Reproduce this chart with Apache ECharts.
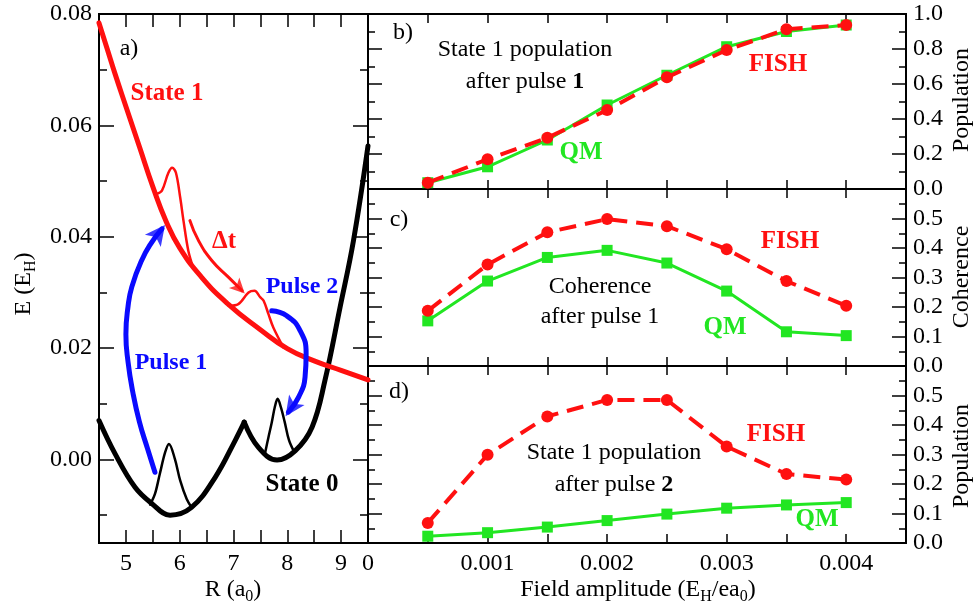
<!DOCTYPE html>
<html><head><meta charset="utf-8">
<script src="https://cdn.jsdelivr.net/npm/echarts@6/dist/echarts.min.js"></script>
<style>html,body{margin:0;padding:0;background:#fff}#c{width:978px;height:613px}</style>
</head><body><div id="c"></div>
<script>
// ---------------- Panel a data ----------------
const xALabels = [5, 6, 7, 8, 9];
const yALabels = [0, 0.02, 0.04, 0.06, 0.08];
const yAMinor = [-0.01, 0.01, 0.03, 0.05, 0.07];

const state1R = [4.5, 4.65, 4.8, 5.0, 5.25, 5.5, 5.75, 6.0, 6.4, 6.9, 7.5, 8.0, 8.5, 9.0, 9.5];
const state1E = [0.0784, 0.0738, 0.0692, 0.0634, 0.0562, 0.0490, 0.0427, 0.0380, 0.0328, 0.0279, 0.0233, 0.0199, 0.0177, 0.0160, 0.0143];

const state0LeftR = [4.5, 4.8, 5.17, 5.48, 5.82, 6.22, 6.66, 7.03, 7.2];
const state0LeftE = [0.0070, 0.0010, -0.0050, -0.0079, -0.0100, -0.0086, -0.0032, 0.0034, 0.0067];
const state0RightR = [7.2, 7.46, 7.81, 8.15, 8.46, 8.70, 8.98, 9.23, 9.5];
const state0RightE = [0.0067, 0.0022, -0.0001, 0.0016, 0.0058, 0.0142, 0.0273, 0.0393, 0.0563];

const pkt0aR = [5.45, 5.54, 5.63, 5.73, 5.80, 5.91, 6.01, 6.13, 6.22];
const pkt0aE = [-0.0081, -0.0062, -0.0026, 0.0013, 0.0028, 0.0001, -0.0038, -0.0071, -0.0086];
const pkt0bR = [7.59, 7.65, 7.71, 7.77, 7.82, 7.88, 7.95, 8.03, 8.12];
const pkt0bE = [0.0013, 0.0040, 0.0066, 0.0095, 0.0109, 0.0094, 0.0068, 0.0035, 0.0015];
const pkt1aR = [5.57, 5.67, 5.79, 5.86, 5.93, 6.01, 6.07, 6.16, 6.25];
const pkt1aE = [0.0477, 0.0483, 0.0515, 0.0524, 0.0515, 0.0470, 0.0429, 0.0375, 0.0345];
const pkt1bR = [6.91, 7.09, 7.28, 7.39, 7.50, 7.56, 7.65, 7.74, 7.93];
const pkt1bE = [0.0276, 0.0279, 0.0300, 0.0303, 0.0291, 0.0285, 0.0261, 0.0237, 0.0201];

const pulse1R = [5.54, 5.40, 5.25, 5.13, 5.04, 5.00, 5.04, 5.11, 5.29, 5.48, 5.67];
const pulse1E = [-0.0023, 0.0020, 0.0068, 0.0120, 0.0175, 0.0225, 0.0275, 0.0310, 0.0357, 0.0390, 0.0414];
const pulse2R = [7.71, 7.99, 8.24, 8.35, 8.33, 8.21, 8.02];
const pulse2E = [0.0267, 0.0258, 0.0231, 0.0190, 0.0148, 0.0112, 0.0085];
const dtR = [6.19, 6.35, 6.60, 6.91, 7.16];
const dtE = [0.0429, 0.0393, 0.0357, 0.0327, 0.0303];

// ---------------- Panels b, c, d data ----------------
const fieldAmp = [0.0005, 0.001, 0.0015, 0.002, 0.0025, 0.003, 0.0035, 0.004];
const fieldLabels = [0, 0.001, 0.002, 0.003, 0.004];
const popP1_FISH = [0.036, 0.170, 0.293, 0.451, 0.638, 0.794, 0.913, 0.937];
const popP1_QM   = [0.036, 0.127, 0.280, 0.480, 0.650, 0.813, 0.900, 0.937];
const coh_FISH   = [0.187, 0.344, 0.453, 0.498, 0.474, 0.396, 0.288, 0.204];
const coh_QM     = [0.153, 0.288, 0.368, 0.392, 0.349, 0.254, 0.116, 0.103];
const popP2_FISH = [0.068, 0.299, 0.429, 0.485, 0.485, 0.327, 0.234, 0.215];
const popP2_QM   = [0.023, 0.035, 0.054, 0.076, 0.098, 0.118, 0.129, 0.137];

// ---------------- styling ----------------
const FONT = '"Liberation Serif","Times New Roman",serif';
const RED = '#ff1010', GREEN = '#22e622', BLUE = '#0a0aff';
const zip = (a, b) => a.map((v, i) => [v, b[i]]);

function axisBase(extra) {
  return Object.assign({
    type: 'value',
    axisLine: { show: true, onZero: false, lineStyle: { color: '#000', width: 2 } },
    splitLine: { show: false },
    axisLabel: { show: false },
  }, extra);
}
const tick = (len, custom) => {
  const t = { show: true, inside: true, length: len, lineStyle: { color: '#000', width: 1.5 } };
  if (custom) t.customValues = custom;
  return t;
};
const lbl = (fmt, custom, extra) => {
  const l = Object.assign({ show: true, color: '#000', fontFamily: FONT, fontSize: 24, formatter: fmt }, extra || {});
  if (custom) l.customValues = custom;
  return l;
};
const minor = (len) => ({ show: true, splitNumber: 2, length: len, lineStyle: { color: '#000', width: 1.5 } });

const xR = { min: 0, max: 0.0045, interval: 0.0005 };
const xA = { min: 4.5, max: 9.5, interval: 0.5 };
const yA = { min: -0.015, max: 0.08 };

const xAxis = [
  axisBase(Object.assign({ gridIndex: 0, position: 'bottom', axisTick: tick(13), axisLabel: lbl(v => String(v), xALabels, { margin: 9 }) }, xA)),
  axisBase(Object.assign({ gridIndex: 0, position: 'top', axisTick: tick(13) }, xA)),
  axisBase(Object.assign({ gridIndex: 1, position: 'bottom', axisTick: tick(9) }, xR)),
  axisBase(Object.assign({ gridIndex: 1, position: 'top', axisTick: tick(9) }, xR)),
  axisBase(Object.assign({ gridIndex: 2, position: 'bottom', axisTick: tick(9) }, xR)),
  axisBase(Object.assign({ gridIndex: 2, position: 'top', axisTick: tick(9) }, xR)),
  axisBase(Object.assign({ gridIndex: 3, position: 'bottom', axisTick: tick(9),
    axisLabel: lbl(v => (v === 0 ? '0' : v.toFixed(3)), fieldLabels, { margin: 9 }) }, xR)),
  axisBase(Object.assign({ gridIndex: 3, position: 'top', axisTick: tick(9) }, xR)),
];

const yB = { min: 0, max: 1, interval: 0.2 };
const yC = { min: 0, max: 0.6, interval: 0.1 };
const f1 = v => v.toFixed(1);
const yAxis = [
  axisBase(Object.assign({ gridIndex: 0, position: 'left', axisTick: tick(15, yALabels), axisLabel: lbl(v => v.toFixed(2), yALabels, { margin: 7 }) }, yA)),
  axisBase(Object.assign({ gridIndex: 0, position: 'left', axisTick: tick(8, yAMinor) }, yA)),
  axisBase(Object.assign({ gridIndex: 0, position: 'right', axisTick: tick(15, yALabels) }, yA)),
  axisBase(Object.assign({ gridIndex: 0, position: 'right', axisTick: tick(8, yAMinor) }, yA)),
  axisBase(Object.assign({ gridIndex: 1, position: 'right', axisTick: tick(14), minorTick: minor(7), axisLabel: lbl(f1, null, { margin: 7 }) }, yB)),
  axisBase(Object.assign({ gridIndex: 1, position: 'left', axisTick: tick(14), minorTick: minor(7) }, yB)),
  axisBase(Object.assign({ gridIndex: 2, position: 'right', axisTick: tick(14), minorTick: minor(7), axisLabel: lbl(f1, null, { margin: 7, showMaxLabel: false }) }, yC)),
  axisBase(Object.assign({ gridIndex: 2, position: 'left', axisTick: tick(14), minorTick: minor(7) }, yC)),
  axisBase(Object.assign({ gridIndex: 3, position: 'right', axisTick: tick(14), minorTick: minor(7), axisLabel: lbl(f1, null, { margin: 7, showMaxLabel: false }) }, yC)),
  axisBase(Object.assign({ gridIndex: 3, position: 'left', axisTick: tick(14), minorTick: minor(7) }, yC)),
];

const gridStyle = { show: true, borderColor: '#000', borderWidth: 2, containLabel: false };
const grid = [
  Object.assign({ left: 99, top: 14, width: 269, height: 529 }, gridStyle),
  Object.assign({ left: 368, top: 14, width: 538, height: 175 }, gridStyle),
  Object.assign({ left: 368, top: 189, width: 538, height: 177 }, gridStyle),
  Object.assign({ left: 368, top: 366, width: 538, height: 177 }, gridStyle),
];

function aLine(id, xs, ys, color, width, smooth, z) {
  return { id, type: 'line', xAxisIndex: 0, yAxisIndex: 0, data: zip(xs, ys), symbol: 'none', showSymbol: false,
    smooth, lineStyle: { color, width, cap: 'round', join: 'round' }, z: z || 2, silent: true };
}
function arrowHead(id, xs, ys, color, size) {
  return { id, type: 'scatter', xAxisIndex: 0, yAxisIndex: 0, data: [[xs[xs.length - 1], ys[ys.length - 1]]],
    symbol: 'arrow', symbolSize: size, itemStyle: { color }, z: 6, silent: true };
}
function rLine(id, xi, yi, ys, kind) {
  if (kind === 'FISH') {
    return { id, type: 'line', xAxisIndex: xi, yAxisIndex: yi, data: zip(fieldAmp, ys), symbol: 'circle', symbolSize: 12,
      showSymbol: true, itemStyle: { color: RED }, lineStyle: { color: RED, width: 4, type: [17, 9] }, z: 4, silent: true };
  }
  return { id, type: 'line', xAxisIndex: xi, yAxisIndex: yi, data: zip(fieldAmp, ys), symbol: 'rect', symbolSize: 11,
    showSymbol: true, itemStyle: { color: GREEN }, lineStyle: { color: GREEN, width: 3 }, z: 3, silent: true };
}

const series = [
  aLine('s0L', state0LeftR, state0LeftE, '#000', 5, 0.4, 3),
  aLine('s0R', state0RightR, state0RightE, '#000', 5, 0.4, 3),
  aLine('s1', state1R, state1E, RED, 5, 0.5, 3),
  aLine('p0a', pkt0aR, pkt0aE, '#000', 2.5, 0.35, 2),
  aLine('p0b', pkt0bR, pkt0bE, '#000', 2.5, 0.35, 2),
  aLine('p1a', pkt1aR, pkt1aE, RED, 2.5, 0.35, 2),
  aLine('p1b', pkt1bR, pkt1bE, RED, 2.5, 0.35, 2),
  aLine('pu1', pulse1R, pulse1E, BLUE, 5, 0.5, 5),
  aLine('pu2', pulse2R, pulse2E, BLUE, 5, 0.5, 5),
  aLine('dt', dtR, dtE, RED, 3, 0.5, 5),
  arrowHead('h1', pulse1R, pulse1E, BLUE, [15, 20]),
  arrowHead('h2', pulse2R, pulse2E, BLUE, [14, 20]),
  arrowHead('h3', dtR, dtE, RED, [11, 15]),
  rLine('bQM', 2, 4, popP1_QM, 'QM'),
  rLine('bF', 2, 4, popP1_FISH, 'FISH'),
  rLine('cQM', 4, 6, coh_QM, 'QM'),
  rLine('cF', 4, 6, coh_FISH, 'FISH'),
  rLine('dQM', 6, 8, popP2_QM, 'QM'),
  rLine('dF', 6, 8, popP2_FISH, 'FISH'),
];

function txt(x, y, text, o) {
  o = o || {};
  const size = o.size || 24;
  const st = { text, fill: o.color || '#000', font: (o.bold ? 'bold ' : '') + size + 'px ' + FONT,
    textAlign: 'center', textVerticalAlign: 'middle', align: 'center', verticalAlign: 'middle' };
  if (o.rich) st.rich = o.rich;
  return { type: 'text', x, y, rotation: o.rot || 0, z: 100, silent: true, style: st };
}
const rich = {
  n: { fontFamily: FONT, fontSize: 24, lineHeight: 30, verticalAlign: 'middle', fill: '#000', color: '#000' },
  s: { fontFamily: FONT, fontSize: 16, lineHeight: 12, verticalAlign: 'bottom', fill: '#000', color: '#000' },
  b: { fontFamily: FONT, fontSize: 24, fontWeight: 'bold', lineHeight: 30, verticalAlign: 'middle', fill: '#000', color: '#000' },
};

const graphic = [
  txt(129, 49, 'a)'),
  txt(167, 94, 'State 1', { color: RED, bold: true, size: 25 }),
  txt(224, 242, 'Δt', { color: RED, bold: true, size: 25 }),
  txt(302, 287, 'Pulse 2', { color: BLUE, bold: true, size: 24 }),
  txt(171, 363, 'Pulse 1', { color: BLUE, bold: true, size: 24 }),
  txt(302, 485, 'State 0', { bold: true, size: 25 }),
  txt(403, 33, 'b)'),
  txt(525, 50, 'State 1 population'),
  txt(525, 82, '{n|after pulse }{b|1}', { rich }),
  txt(778, 65, 'FISH', { color: RED, bold: true, size: 25 }),
  txt(581, 153, 'QM', { color: GREEN, bold: true, size: 25 }),
  txt(399, 220, 'c)'),
  txt(790, 242, 'FISH', { color: RED, bold: true, size: 25 }),
  txt(600, 287, 'Coherence'),
  txt(600, 317, 'after pulse 1'),
  txt(725, 328, 'QM', { color: GREEN, bold: true, size: 25 }),
  txt(399, 392, 'd)'),
  txt(776, 435, 'FISH', { color: RED, bold: true, size: 25 }),
  txt(614, 453, 'State 1 population'),
  txt(614, 485, '{n|after pulse }{b|2}', { rich }),
  txt(817, 520, 'QM', { color: GREEN, bold: true, size: 25 }),
  txt(24, 284, '{n|E (E}{s|H}{n|)}', { rich, rot: Math.PI / 2 }),
  txt(233, 590, '{n|R (a}{s|0}{n|)}', { rich }),
  txt(638, 590, '{n|Field amplitude (E}{s|H}{n|/ea}{s|0}{n|)}', { rich }),
  txt(962, 100, 'Population', { rot: Math.PI / 2 }),
  txt(962, 277, 'Coherence', { rot: Math.PI / 2 }),
  txt(962, 456, 'Population', { rot: Math.PI / 2 }),
];

const chart = echarts.init(document.getElementById('c'), null, { renderer: 'canvas' });
chart.setOption({ animation: false, backgroundColor: '#fff', grid, xAxis, yAxis, series, graphic });

// orient arrow heads along the last segment of each arrow curve
function orient(id, xs, ys, size) {
  const n = xs.length;
  const p1 = chart.convertToPixel({ xAxisIndex: 0, yAxisIndex: 0 }, [xs[n - 2], ys[n - 2]]);
  const p2 = chart.convertToPixel({ xAxisIndex: 0, yAxisIndex: 0 }, [xs[n - 1], ys[n - 1]]);
  const dx = p2[0] - p1[0], dy = p2[1] - p1[1];
  const L = Math.hypot(dx, dy) || 1;
  const ux = dx / L, uy = dy / L;
  const rot = Math.atan2(-dy, dx) * 180 / Math.PI - 90;
  const h = size[1];
  return { id, symbolRotate: rot, symbolOffset: [ux * h * 0.25, uy * h * 0.25] };
}
chart.setOption({ series: [
  orient('h1', pulse1R, pulse1E, [15, 20]),
  orient('h2', pulse2R, pulse2E, [14, 20]),
  orient('h3', dtR, dtE, [11, 15]),
] });
</script>
</body></html>
